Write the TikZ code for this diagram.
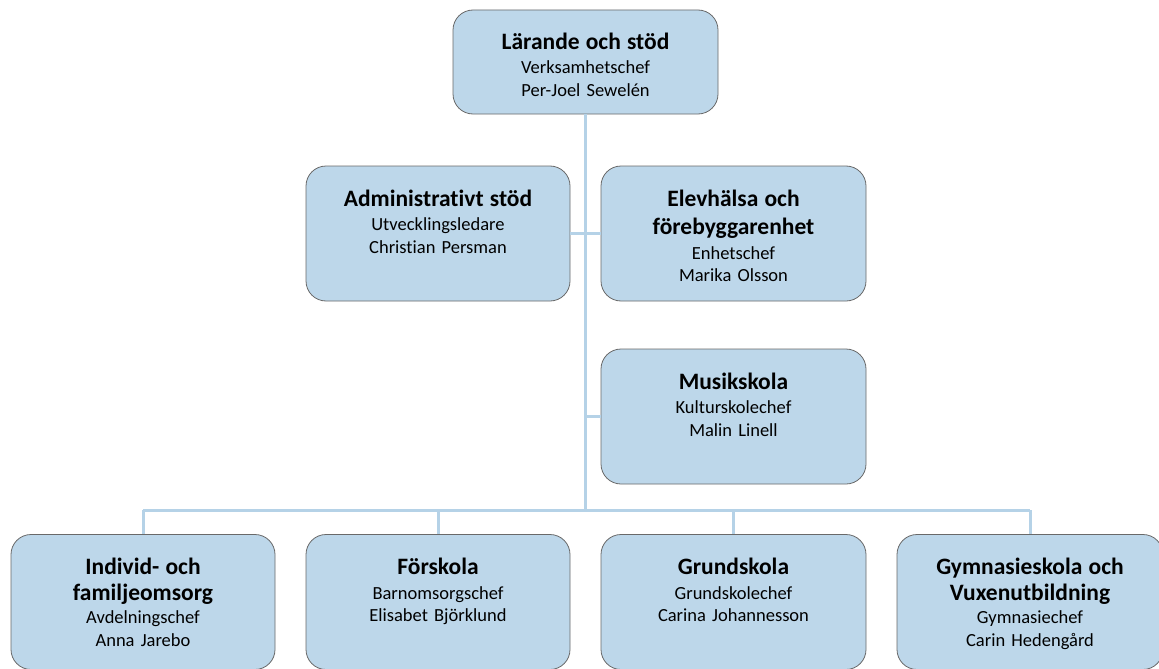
\documentclass[tikz,border=0pt]{standalone}
\usepackage{fontspec}
\setmainfont{Carlito}[Ligatures=NoCommon]
\usetikzlibrary{positioning}
\definecolor{unitfill}{RGB}{189,215,234}
\definecolor{unitline}{RGB}{105,105,105}
\definecolor{linkblue}{RGB}{181,210,231}
\tikzset{
    unit/.style={rectangle,rounded corners=20pt,draw=unitline,line width=0.8pt,fill=unitfill,minimum width=265pt,minimum height=135pt,inner sep=0},
    caption/.style={align=center,text width=260pt,inner sep=0,font=\fontsize{18.5}{22.5}\selectfont},
    link/.style={draw=linkblue,line width=3pt}
}
\newcommand{\unithead}[1]{{\fontsize{23.5}{24}\selectfont\bfseries #1}}

\begin{document}
\begin{tikzpicture}[x=1pt,y=-1pt]
    \useasboundingbox (0,0) rectangle (1159,669);

    \node[unit,minimum height=104pt] (top) at (585.5,62) {};
    \node[caption,below=23pt of top.north] (topt) {\unithead{Lärande och stöd}\\[2pt]Verksamhetschef\\Per-Joel Sewelén};

    \node[unit,minimum width=264pt] (admin) at (438,233.5) {};
    \node[caption,below=24pt of admin.north] (admint) {\unithead{Administrativt stöd}\\[2pt]Utvecklingsledare\\Christian Persman};

    \node[unit] (elev) at (733.5,233.5) {};
    \node[caption,below=24pt of elev.north] (elevt) {\unithead{Elevhälsa och}\\[6pt]\unithead{förebyggarenhet}\\[2pt]Enhetschef\\Marika Olsson};

    \node[unit] (musik) at (733.5,416.5) {};
    \node[caption,below=24pt of musik.north] (musikt) {\unithead{Musikskola}\\[2pt]Kulturskolechef\\Malin Linell};

    \node[unit,minimum width=264pt] (ifo) at (143,602) {};
    \node[caption,below=24pt of ifo.north] (ifot) {\unithead{Individ- och}\\[3pt]\unithead{familjeomsorg}\\[1pt]Avdelningschef\\Anna Jarebo};

    \node[unit,minimum width=264pt] (fsk) at (438,602) {};
    \node[caption,below=24pt of fsk.north] (fskt) {\unithead{Förskola}\\[2pt]Barnomsorgschef\\Elisabet Björklund};

    \node[unit] (gsk) at (733.5,602) {};
    \node[caption,below=24pt of gsk.north] (gskt) {\unithead{Grundskola}\\[2pt]Grundskolechef\\Carina Johannesson};

    \node[unit,minimum width=266pt] (gym) at (1030,602) {};
    \node[caption,below=24pt of gym.north] (gymt) {\unithead{Gymnasieskola och}\\[3pt]\unithead{Vuxenutbildning}\\[1pt]Gymnasiechef\\Carin Hedengård};

    % connectors
    \coordinate (bus) at (top.south |- 0,510);
    \draw[link] (top.south) -- (bus);
    \draw[link] (admin.east) -- (elev.west);
    \draw[link] (musik.west -| bus) -- (musik.west);
    \draw[link] (ifo.north |- bus) -- (gym.north |- bus);
    \foreach \unitname in {ifo,fsk,gsk,gym}
        \draw[link] (\unitname.north |- bus) -- (\unitname.north);
\end{tikzpicture}
\end{document}
